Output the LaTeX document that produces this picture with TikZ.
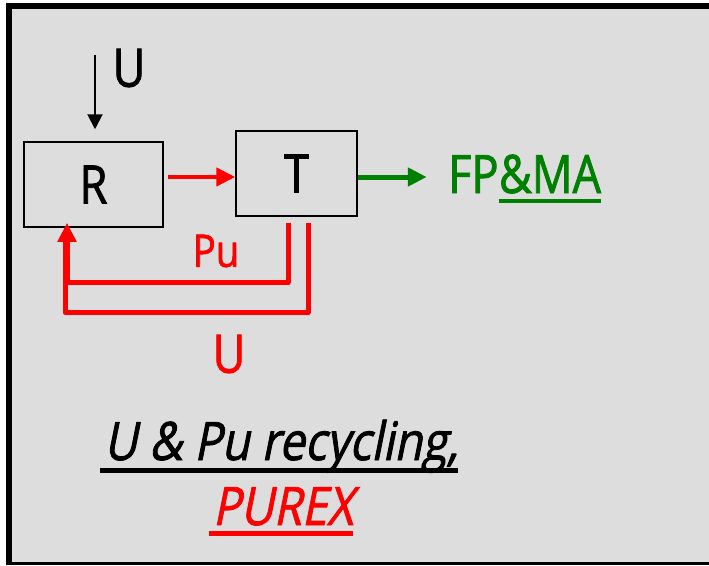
\documentclass[tikz,border=0pt]{standalone}
\usepackage{fontspec}
\setmainfont{Open Sans}[FakeStretch=0.85,FakeBold=1.5]
\newfontfamily\oblfont{Open Sans}[FakeStretch=0.86,FakeSlant=0.2,FakeBold=1.5]
\usetikzlibrary{arrows.meta}
\definecolor{bg}{RGB}{221,221,221}
\definecolor{fpgreen}{RGB}{0,128,0}
\definecolor{pured}{RGB}{255,0,0}
\tikzset{
  boxnode/.style={draw=black, line width=1.5pt, inner sep=0pt, font=\fontsize{53}{60}\selectfont},
  lbl/.style={inner sep=0pt, font=\fontsize{53}{60}\selectfont},
  redline/.style={draw=pured, line width=5pt},
  bigtip/.style={-{Triangle[length=19pt,width=18pt]}},
}
\begin{document}
\begin{tikzpicture}[x=1pt,y=-1pt]
\useasboundingbox (0,0) rectangle (709,565);
\fill[white] (0,0) rectangle (709,565);
\fill[bg] (9,6) rectangle (720,563);
\draw[line width=6pt] (720,6) -- (9,6) -- (9,563);
\draw[line width=3pt] (6,563.5) -- (720,563.5);

\node[boxnode, minimum width=139pt, minimum height=85pt] (R) at (93.5,184.5) {R};
\node[boxnode, minimum width=121pt, minimum height=85pt] (T) at (296.5,173.5) {T};

\node[lbl] (ulbl) at (129,68) {U};
\coordinate (uin) at (95,55);
\draw[line width=2pt, -{Triangle[length=15pt,width=15pt]}, shorten >=12pt] (uin) -- (uin |- R.north);

\coordinate (rtip) at ([yshift=-3.5pt]T.west);
\draw[draw=pured, line width=4.5pt, bigtip, shorten <=4pt, color=pured] (R.east |- rtip) -- (rtip);

\coordinate (gtip) at ([xshift=69pt,yshift=-3.5pt]T.east);
\draw[draw=fpgreen, color=fpgreen, line width=5pt, bigtip] ([yshift=-3.5pt]T.east) -- (gtip);

\draw[redline, line join=round, shorten <=6pt] ([xshift=11.5pt]T.south) -- ++(0,96) -| ([xshift=-28.5pt,yshift=-13pt]R.south);
\draw[redline, color=pured, line join=round, bigtip, shorten <=6pt, shorten >=-5pt] ([xshift=-8.5pt]T.south) -- ++(0,66) -| ([xshift=-26.5pt]R.south);

\node[lbl, text=pured, font=\fontsize{45}{50}\selectfont] (pulbl) at (216,251) {Pu};
\node[lbl, text=pured] (ured) at (229,354) {U};

\node[lbl, text=fpgreen, anchor=base west] (fp) at (448,193) {FP};
\node[lbl, text=fpgreen, anchor=base west] (ma) at (fp.base east) {\&MA};
\draw[fpgreen, line width=4pt] ([yshift=-8pt]ma.base west) -- ([yshift=-8pt]ma.base east);

\node[lbl, anchor=base, font=\fontsize{53}{60}\oblfont] (rec) at (281,460) {U \& Pu recycling,};
\draw[line width=5pt] ([yshift=-10pt,xshift=-4pt]rec.base west) -- ([yshift=-10pt]rec.base east);
\node[lbl, anchor=base, text=pured, font=\fontsize{53}{60}\oblfont] (purex) at (283,525) {PUREX};
\draw[pured, line width=5pt] ([yshift=-8pt,xshift=-4pt]purex.base west) -- ([yshift=-8pt]purex.base east);
\end{tikzpicture}
\end{document}
